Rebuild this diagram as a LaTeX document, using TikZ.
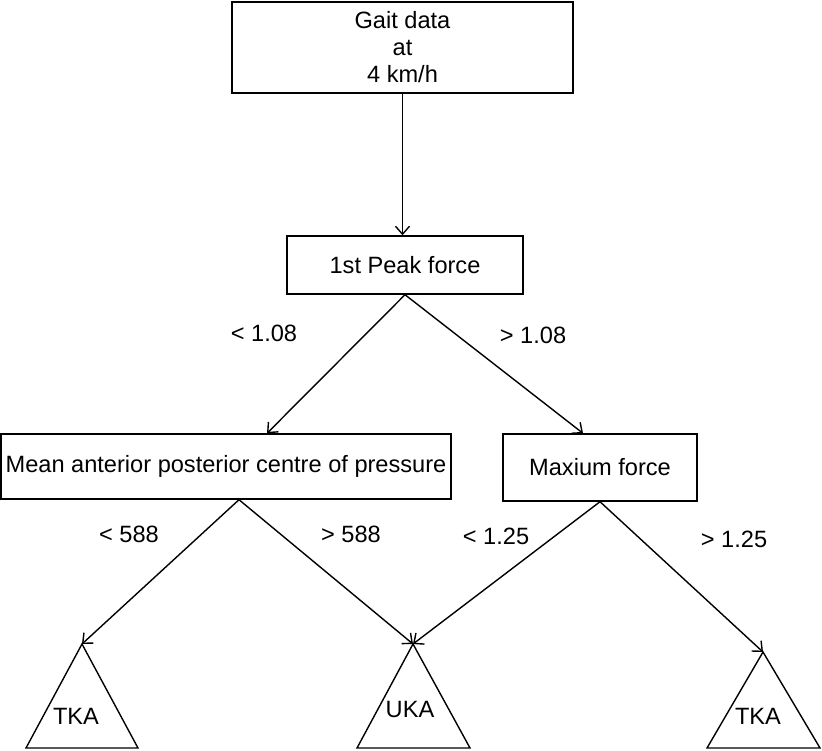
\documentclass[tikz,border=0pt]{standalone}
\usepackage{fontspec}
\setmainfont{Liberation Sans}
\usetikzlibrary{arrows.meta}
\tikzset{
  box/.style={draw,rectangle,inner sep=0pt,align=center,font=\fontsize{11.8}{13.5}\selectfont},
  cut/.style={font=\fontsize{11.8}{13.5}\selectfont},
  leaf/.style={font=\fontsize{11.8}{13.5}\selectfont}
}
\begin{document}
\begin{tikzpicture}[>={Straight Barb[length=4pt,width=7pt]},x=.5pt,y=-.5pt,line width=.7pt]
\useasboundingbox (0,0) rectangle (822,750);
% decision boxes
\node[box,minimum width=170.5pt,minimum height=45.5pt] (gait) at (402.5,47.5) {Gait data\\at\\4 km/h};
\node[box,minimum width=118pt,minimum height=29pt] (peak) at (405,265) {1st Peak force};
\node[box,minimum width=225pt,minimum height=32.5pt] (mean) at (226,466.5) {Mean anterior posterior centre of pressure};
\node[box,minimum width=97pt,minimum height=33.5pt] (maxf) at (600,467.5) {Maxium force};

% leaves
\coordinate (tkaA) at (82,644);
\coordinate (ukaB) at (413,644);
\coordinate (tkaC) at (763,652);
\draw (tkaA) -- ++(-56,104) -- ++(112,0) -- cycle;
\draw (ukaB) -- ++(-56,104) -- ++(113,0) -- cycle;
\draw (tkaC) -- ++(-56,96) -- ++(113,0) -- cycle;
\node[leaf] (tkaAtxt) at (76,716) {TKA};
\node[leaf] (ukaBtxt) at (410,709) {UKA};
\node[leaf] (tkaCtxt) at (758,716) {TKA};

\draw[->] (gait.south) -- (gait.south |- peak.north);
\draw[->] (peak.south) -- ([xshift=20.5pt]mean.north);
\draw[->] (peak.south) -- ([xshift=-8.5pt]maxf.north);
\draw[->] ([xshift=6.5pt]mean.south) -- (tkaA);
\draw[->] ([xshift=6.5pt]mean.south) -- (ukaB);
\draw[->] (maxf.south) -- (ukaB);
\draw[->] (maxf.south) -- (tkaC);

% split values
\node[cut] (lt108) at (264,333) {< 1.08};
\node[cut] (gt108) at (533,335) {> 1.08};
\node[cut] (lt588) at (129,534) {< 588};
\node[cut] (gt588) at (351,534) {> 588};
\node[cut] (lt125) at (496,536) {< 1.25};
\node[cut] (gt125) at (734,539) {> 1.25};
\end{tikzpicture}
\end{document}
